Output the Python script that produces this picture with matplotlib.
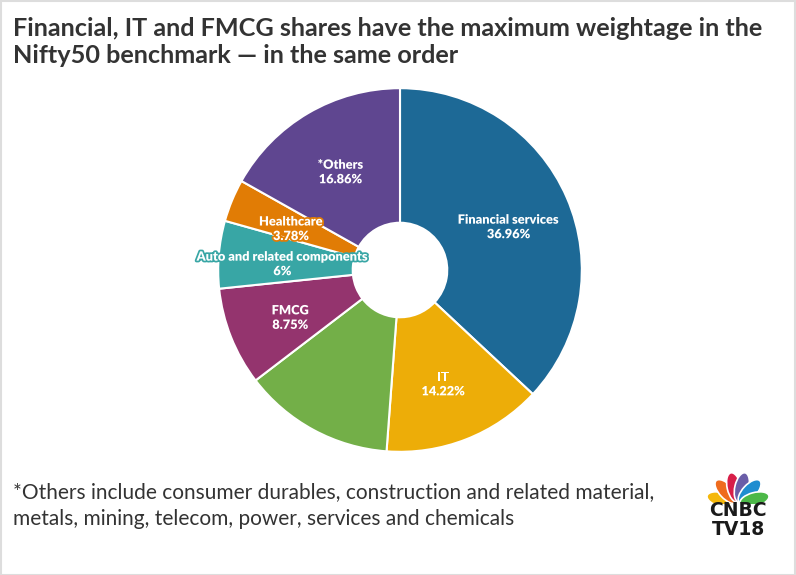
import matplotlib
matplotlib.use("Agg")
import matplotlib.pyplot as plt
import matplotlib.patheffects as pe
from matplotlib.patches import Ellipse, Rectangle
import numpy as np

# ---- data ----
sectors = ["Financial services", "IT", "", "FMCG", "Auto and related components", "Healthcare", "*Others"]
weights = [36.96, 14.22, 13.43, 8.75, 6.0, 3.78, 16.86]
value_labels = ["36.96%", "14.22%", "", "8.75%", "6%", "3.78%", "16.86%"]
colors = ["#1d6996", "#edad08", "#73af48", "#94346e", "#38a6a5", "#e17c05", "#5f4690"]

title = "Financial, IT and FMCG shares have the maximum weightage in the\nNifty50 benchmark \u2014 in the same order"
footnote = ("*Others include consumer durables, construction and related material,\n"
            "metals, mining, telecom, power, services and chemicals")

W, H = 796, 575
fig = plt.figure(figsize=(W / 100, H / 100), dpi=100)
fig.patch.set_facecolor("white")

# border
fig.add_artist(Rectangle((0.5 / W, 0.5 / H), 1 - 1.5 / W, 1 - 1.5 / H, transform=fig.transFigure,
                         fill=False, edgecolor="#dddddd", linewidth=1.5))

FONT = "Lato"

fig.text(13 / W, 1 - 17 / H, title, ha="left", va="top", fontsize=18.2, fontweight="bold",
         family=FONT, color="#333333", linespacing=1.2)

# pie axes: center (400,270) radius ~182
ax = fig.add_axes([200 / W, (H - 470) / H, 400 / W, 400 / H])
wedges, _ = ax.pie(weights, colors=colors, startangle=90, counterclock=False, radius=1.0,
                   wedgeprops=dict(width=0.74, edgecolor="white", linewidth=1.5))
ax.set_xlim(-1.1, 1.1)
ax.set_ylim(-1.1, 1.1)
ax.set_aspect("equal")
ax.axis("off")

total = sum(weights)
cum = 0.0
for name, w, vl, c in zip(sectors, weights, value_labels, colors):
    mid = (cum + w / 2) / total * 360.0
    cum += w
    if not name:
        continue
    ang = np.deg2rad(90 - mid)
    r = 0.65
    x, y = r * np.cos(ang), r * np.sin(ang) - 0.022
    ax.text(x, y, name + "\n" + vl, ha="center", va="center", fontsize=9.2, fontweight="heavy",
            family=FONT, color="white", linespacing=1.25,
            path_effects=[pe.withStroke(linewidth=2.5, foreground=c)])

fig.text(13 / W, 1 - 482 / H, footnote, ha="left", va="top", fontsize=15.0,
         family=FONT, color="#333333", linespacing=1.45)

# CNBC TV18 logo
lax = fig.add_axes([700 / W, (H - 540) / H, 80 / W, 85 / H])
lax.set_xlim(0, 80)
lax.set_ylim(0, 85)
lax.axis("off")
feather_cols = ["#f5b70a", "#ef6b1d", "#d71e48", "#6a5ea8", "#1f8dd0", "#4cb848"]
angles = [165, 133, 103, 77, 47, 15]
cx, cy = 38, 36
for fc, a in zip(feather_cols, angles):
    t = np.deg2rad(a)
    ex, ey = cx + 17 * np.cos(t), cy + 17 * np.sin(t)
    lax.add_patch(Ellipse((ex, ey), 30, 14, angle=a, facecolor=fc, edgecolor="white", linewidth=1.2))
lax.add_patch(Rectangle((0, 0), 80, cy, facecolor="white", edgecolor="none"))
lax.text(38, 20, "CNBC\nTV18", ha="center", va="center", fontsize=13.5, fontweight="black",
         family="DejaVu Sans", color="#1a1a1a", linespacing=0.95)

fig.savefig("out.png", dpi=100, facecolor="white")
